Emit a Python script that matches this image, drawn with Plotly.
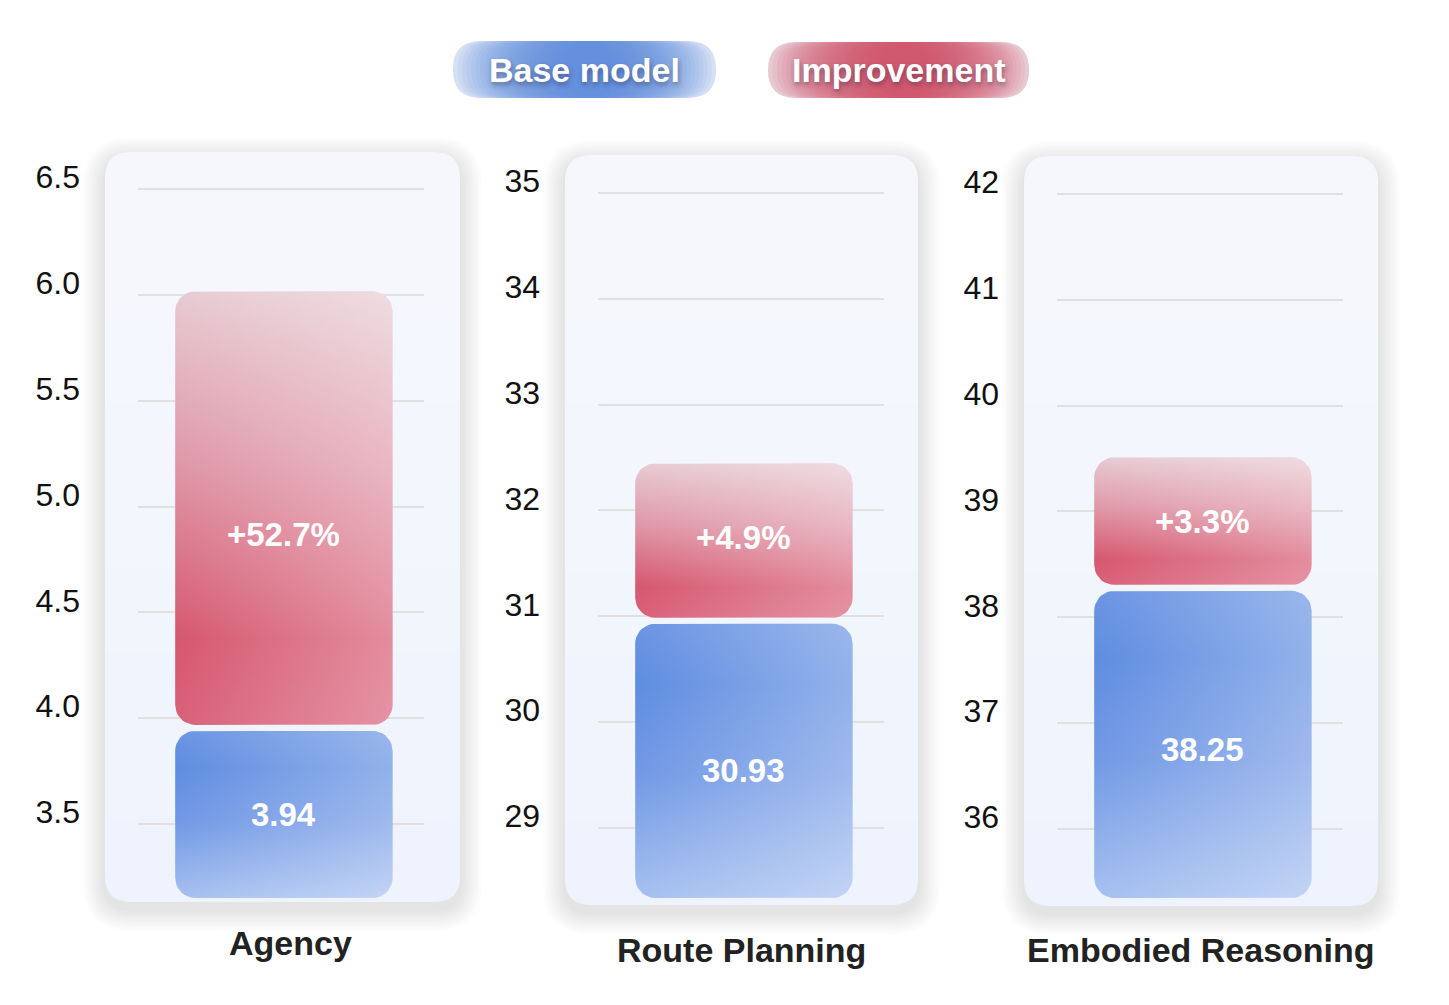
import numpy as np
import plotly.graph_objects as go
from plotly.subplots import make_subplots

# dados
categorias = ['Agency', 'Route Planning', 'Embodied Reasoning']
base_model = [3.94, 30.93, 38.25]
melhoria_pct = [52.7, 4.9, 3.3]
y_ranges = [[3.1505, 6.637], [28.338, 35.312], [35.348, 42.321]]
y_dticks = [0.5, 1, 1]
y_formats = ['.1f', 'd', 'd']

W, H = 1449, 1005
OFF = 8                                  # margem do body da página
PLOT_TOP, PLOT_BOT = 160, 898            # px
dominios_x = [(138, 424), (598, 884), (1057, 1343)]
paineis = [(105, 152, 460, 902), (565, 155, 918, 905), (1024, 156, 1378, 906)]
# deslocamento (px) dos rótulos dentro das barras
desloc_azul = [0, -10, -5]
desloc_verm = [-26, 3, 0]

AZUL = [[0, '#a6c0f0'], [0.45, '#7299e5'], [0.78, '#5f8de1'], [1, '#6b95e3']]
VERMELHO = [[0, '#d9617a'], [0.2, '#d6576f'], [0.6, '#df97a7'], [1, '#e7cbd3']]
BRILHO = [[0, 'rgba(255,255,255,0)'], [1, 'rgba(255,255,255,0.32)']]
FONTE = 'Liberation Sans, Arial, sans-serif'


def fx(x):
    return (x - OFF) / W


def fy(y):
    return 1 - (y - OFF) / H


def caminho_arredondado(x0, y0, x1, y1, r, r_baixo=None):
    # retangulo arredondado em pixels -> path em coords 'paper'
    rb = r if r_baixo is None else r_baixo
    pts = [
        ('M', [(x0 + r, y0)]), ('L', [(x1 - r, y0)]), ('Q', [(x1, y0), (x1, y0 + r)]),
        ('L', [(x1, y1 - rb)]), ('Q', [(x1, y1), (x1 - rb, y1)]),
        ('L', [(x0 + rb, y1)]), ('Q', [(x0, y1), (x0, y1 - rb)]),
        ('L', [(x0, y0 + r)]), ('Q', [(x0, y0), (x0 + r, y0)]),
    ]
    s = ''
    for cmd, coords in pts:
        s += cmd + ' ' + ' '.join('%.5f,%.5f' % (fx(a), fy(b)) for a, b in coords) + ' '
    return s + 'Z'


def barra_arredondada(x0, x1, y0, y1, rx, ry, n=10):
    ry = min(ry, (y1 - y0) / 2)
    xs, ys = [], []
    cantos = [(x1 - rx, y1 - ry, 0, 90), (x0 + rx, y1 - ry, 90, 180),
              (x0 + rx, y0 + ry, 180, 270), (x1 - rx, y0 + ry, 270, 360)]
    for cx, cy, a0, a1 in cantos:
        for t in np.linspace(np.radians(a0), np.radians(a1), n):
            xs.append(cx + rx * np.cos(t))
            ys.append(cy + ry * np.sin(t))
    xs.append(xs[0])
    ys.append(ys[0])
    return xs, ys


def add_barra(xs, ys, escala, col):
    fig.add_trace(go.Scatter(
        x=xs, y=ys, mode='lines', fill='toself', line=dict(width=0),
        fillgradient=dict(type='vertical', colorscale=escala),
        hoverinfo='skip', showlegend=False,
    ), row=1, col=col)
    # brilho lateral (mais claro à direita)
    fig.add_trace(go.Scatter(
        x=xs, y=ys, mode='lines', fill='toself', line=dict(width=0),
        fillgradient=dict(type='horizontal', colorscale=BRILHO),
        hoverinfo='skip', showlegend=False,
    ), row=1, col=col)


fig = make_subplots(rows=1, cols=3)

shapes = []
annotations = []
altura_px = PLOT_BOT - PLOT_TOP
for i, cat in enumerate(categorias):
    ymin, ymax = y_ranges[i]
    un_por_px = (ymax - ymin) / altura_px
    larg_px = dominios_x[i][1] - dominios_x[i][0]
    rx = 20 / larg_px
    ry = 20 * un_por_px
    gap = 6 * un_por_px
    centro, meia = 0.01, 0.38

    topo = base_model[i] * (1 + melhoria_pct[i] / 100)

    bx, by = barra_arredondada(centro - meia, centro + meia, ymin, base_model[i], rx, ry)
    add_barra(bx, by, AZUL, i + 1)
    vx, vy = barra_arredondada(centro - meia, centro + meia, base_model[i] + gap, topo, rx, ry)
    add_barra(vx, vy, VERMELHO, i + 1)

    sx = '' if i == 0 else str(i + 1)
    annotations.append(dict(
        x=centro, y=(ymin + base_model[i]) / 2, xref='x' + sx, yref='y' + sx,
        text='<b>%.2f</b>' % base_model[i], showarrow=False,
        xanchor='center', yanchor='middle', yshift=desloc_azul[i],
        font=dict(family=FONTE, size=33, color='white')))
    annotations.append(dict(
        x=centro, y=(base_model[i] + gap + topo) / 2, xref='x' + sx, yref='y' + sx,
        text='<b>+%.1f%%</b>' % melhoria_pct[i], showarrow=False,
        xanchor='center', yanchor='middle', yshift=desloc_verm[i],
        font=dict(family=FONTE, size=33, color='white')))

    # painel de fundo com sombra e leve degradê
    x0, y0, x1, y1 = paineis[i]
    for k in range(9, 0, -1):
        e = 2.4 * k
        shapes.append(dict(type='path', xref='paper', yref='paper', layer='below',
                           path=caminho_arredondado(x0 - e, y0 - e + 7, x1 + e, y1 + e + 7, 26 + e),
                           fillcolor='rgba(40,50,80,0.016)', line=dict(width=0)))
    shapes.append(dict(type='path', xref='paper', yref='paper', layer='below',
                       path=caminho_arredondado(x0, y0, x1, y1, 26),
                       fillcolor='#eef3fd', line=dict(width=0)))
    for k in range(1, 9):
        yb = y0 + (y1 - y0) * k / 9
        shapes.append(dict(type='path', xref='paper', yref='paper', layer='below',
                           path=caminho_arredondado(x0, y0, x1, yb, 26, 0),
                           fillcolor='rgba(255,255,255,0.1)', line=dict(width=0)))

    # rótulo da categoria
    cx = (paineis[i][0] + paineis[i][2]) / 2 + (8 if i == 0 else 0)
    cy = 943 if i == 0 else 950
    annotations.append(dict(
        x=fx(cx), y=fy(cy), xref='paper', yref='paper', showarrow=False,
        xanchor='center', yanchor='middle',
        text='<b>%s</b>' % cat, font=dict(family=FONTE, size=34, color='#222222')))

    fig.update_xaxes(range=[-0.5, 0.5], domain=[fx(dominios_x[i][0]), fx(dominios_x[i][1])],
                     visible=False, row=1, col=i + 1)
    fig.update_yaxes(range=y_ranges[i], dtick=y_dticks[i], tickformat=y_formats[i],
                     domain=[fy(PLOT_BOT), fy(PLOT_TOP)],
                     showgrid=True, gridcolor='#e0e0e0', gridwidth=2,
                     zeroline=False, showline=False, ticks='',
                     ticklabelstandoff=57, ticklabelshift=-12,
                     tickfont=dict(family=FONTE, size=32, color='#111111'),
                     row=1, col=i + 1)

# "legenda" em pílulas, com degradê simulado por camadas
pilulas = [('Base model', (453, 41, 716, 98), '#e1e9f7', 'rgba(88,137,224,0.085)', 590),
           ('Improvement', (768, 42, 1029, 98), '#ead5db', 'rgba(212,84,110,0.085)', 905)]
for nome, (x0, y0, x1, y1), cor, cor_camada, centro_px in pilulas:
    shapes.append(dict(type='path', xref='paper', yref='paper', layer='below',
                       path=caminho_arredondado(x0, y0, x1, y1, 28),
                       fillcolor=cor, line=dict(width=0)))
    n = 26
    for k in range(n):
        f = 1 - k / n * 0.85
        esq = centro_px - (centro_px - x0) * f
        dir_ = centro_px + (x1 - centro_px) * f
        shapes.append(dict(type='path', xref='paper', yref='paper', layer='below',
                           path=caminho_arredondado(esq, y0, dir_, y1, min(28, (dir_ - esq) / 2)),
                           fillcolor=cor_camada, line=dict(width=0)))
    annotations.append(dict(
        x=fx((x0 + x1) / 2), y=fy((y0 + y1) / 2), xref='paper', yref='paper',
        showarrow=False, xanchor='center', yanchor='middle',
        text='<b>%s</b>' % nome,
        font=dict(family=FONTE, size=34, color='white',
                  shadow='1px 3px 5px rgba(30,30,60,0.4)')))

fig.update_layout(
    width=W, height=H,
    margin=dict(l=0, r=0, t=0, b=0),
    paper_bgcolor='white',
    plot_bgcolor='rgba(0,0,0,0)',
    shapes=shapes,
    annotations=annotations,
    showlegend=False,
)

fig.write_html('out.html')
